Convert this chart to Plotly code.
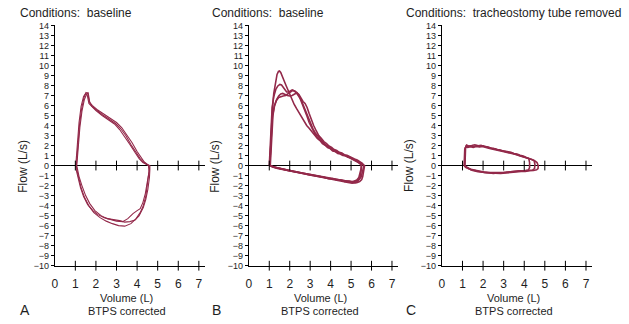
import plotly.graph_objects as go

# ---------------- data (Volume in L, Flow in L/s) ----------------
x_ticks = [0, 1, 2, 3, 4, 5, 6, 7]
y_ticks = list(range(-10, 15))

titles = ["Conditions:  baseline", "Conditions:  baseline", "Conditions:  tracheostomy tube removed"]
letters = ["A", "B", "C"]

A1_vol = [1.05, 1.12, 1.2, 1.3, 1.42, 1.52, 1.6, 1.68, 1.8, 2.0, 2.3, 2.6, 2.95, 3.2, 3.45, 3.7, 3.95, 4.15, 4.3, 4.45,
          4.58, 4.6, 4.55, 4.5, 4.42, 4.3, 4.15, 3.95, 3.7, 3.4, 3.1, 2.8, 2.5, 2.2, 1.9, 1.65, 1.45, 1.28, 1.15, 1.07, 1.05]
A1_flow = [0, 2.0, 4.0, 5.6, 6.8, 7.3, 7.2, 6.4, 5.9, 5.6, 5.1, 4.7, 4.2, 3.7, 3.0, 2.1, 1.3, 0.7, 0.35, 0.12,
           0, -0.3, -1.0, -2.0, -3.1, -4.0, -4.7, -5.3, -5.8, -6.05, -6.0, -5.8, -5.55, -5.2, -4.7, -4.0, -3.2, -2.2, -1.2, -0.4, 0]
A2_vol = [1.02, 1.1, 1.18, 1.28, 1.4, 1.5, 1.58, 1.66, 1.78, 2.0, 2.3, 2.6, 2.9, 3.15, 3.4, 3.65, 3.9, 4.1, 4.28, 4.42,
          4.55, 4.58, 4.5, 4.4, 4.28, 4.15, 4.0, 3.8, 3.55, 3.3, 3.0, 2.7, 2.4, 2.1, 1.85, 1.6, 1.4, 1.25, 1.12, 1.04, 1.02]
A2_flow = [0, 2.2, 4.3, 5.9, 6.9, 7.2, 7.0, 6.2, 5.95, 5.5, 5.0, 4.6, 4.15, 3.6, 2.9, 2.1, 1.3, 0.7, 0.3, 0.1,
           0, -0.6, -1.8, -2.8, -3.7, -4.3, -4.5, -4.8, -5.3, -5.6, -5.55, -5.4, -5.2, -4.9, -4.5, -3.9, -3.1, -2.2, -1.2, -0.4, 0]
A3_vol = [1.07, 1.14, 1.22, 1.32, 1.44, 1.54, 1.62, 1.7, 1.82, 2.05, 2.35, 2.65, 3.0, 3.25, 3.5, 3.75, 4.0, 4.2, 4.35, 4.5,
          4.62, 4.62, 4.6, 4.52, 4.42, 4.3, 4.1, 3.9, 3.65, 3.4, 3.15, 2.85, 2.55, 2.25, 1.95, 1.7, 1.5, 1.32, 1.18, 1.1, 1.07]
A3_flow = [0, 1.8, 3.8, 5.4, 6.6, 7.1, 7.3, 6.3, 6.0, 5.6, 5.2, 4.8, 4.3, 3.8, 3.1, 2.3, 1.4, 0.75, 0.35, 0.1,
           0, -0.4, -1.2, -2.4, -3.4, -4.2, -5.0, -5.45, -5.6, -5.65, -5.5, -5.4, -5.3, -5.0, -4.5, -3.8, -3.0, -2.0, -1.1, -0.3, 0]

B1_vol = [1.03, 1.06, 1.1, 1.15, 1.22, 1.3, 1.38, 1.45, 1.5, 1.56, 1.63, 1.72, 1.82, 1.92, 2.02, 2.12, 2.22, 2.33, 2.45, 2.57,
          2.7, 2.83, 2.96, 3.1, 3.22, 3.35, 3.48, 3.6, 3.72, 3.85, 3.97, 4.1, 4.22, 4.35, 4.47, 4.6, 4.72, 4.85, 4.97, 5.1,
          5.22, 5.35, 5.47, 5.58, 5.66, 5.64, 5.6, 5.57, 5.52, 5.42, 5.28, 5.1, 4.9, 4.7, 4.5, 4.3, 4.1, 3.9, 3.7, 3.5,
          3.3, 3.1, 2.9, 2.7, 2.5, 2.3, 2.1, 1.9, 1.7, 1.5, 1.3, 1.15, 1.03]
B1_flow = [0, 1.8, 3.8, 5.6, 7.2, 8.4, 9.1, 9.4, 9.45, 9.3, 9.0, 8.5, 8.0, 7.5, 7.0, 6.6, 6.1, 5.7, 5.3, 4.8,
           4.4, 4.0, 3.7, 3.3, 3.05, 2.7, 2.5, 2.2, 2.05, 1.8, 1.7, 1.45, 1.4, 1.2, 1.15, 1.0, 0.98, 0.82, 0.78, 0.6,
           0.52, 0.36, 0.26, 0.1, 0, -0.4, -0.8, -1.1, -1.4, -1.6, -1.7, -1.68, -1.55, -1.6, -1.45, -1.45, -1.3, -1.32, -1.18, -1.12,
           -1.05, -0.95, -0.92, -0.8, -0.74, -0.66, -0.56, -0.5, -0.38, -0.3, -0.2, -0.1, 0]
B2_vol = [1.0, 1.04, 1.08, 1.14, 1.22, 1.32, 1.42, 1.52, 1.6, 1.68, 1.76, 1.85, 1.95, 2.04, 2.12, 2.22, 2.35, 2.45, 2.55, 2.65,
          2.75, 2.85, 2.95, 3.05, 3.15, 3.25, 3.35, 3.48, 3.6, 3.72, 3.85, 3.97, 4.1, 4.22, 4.35, 4.47, 4.6, 4.72, 4.85, 4.97,
          5.1, 5.22, 5.33, 5.45, 5.52, 5.5, 5.47, 5.42, 5.35, 5.22, 5.05, 4.85, 4.6, 4.35, 4.1, 3.85, 3.6, 3.35, 3.1, 2.85,
          2.6, 2.35, 2.1, 1.85, 1.6, 1.4, 1.2, 1.08, 1.0]
B2_flow = [0, 2.0, 4.0, 5.8, 6.9, 7.6, 7.95, 8.1, 8.05, 7.8, 7.55, 7.35, 7.35, 7.45, 7.55, 7.45, 7.2, 6.9, 6.6, 6.1,
           5.6, 5.0, 4.5, 4.0, 3.6, 3.25, 3.0, 2.65, 2.45, 2.15, 1.95, 1.8, 1.55, 1.5, 1.28, 1.22, 1.05, 1.0, 0.85, 0.78,
           0.62, 0.5, 0.32, 0.2, 0, -0.45, -0.9, -1.25, -1.5, -1.72, -1.75, -1.7, -1.6, -1.52, -1.42, -1.3, -1.22, -1.1, -1.0, -0.92,
           -0.82, -0.72, -0.62, -0.52, -0.4, -0.3, -0.18, -0.08, 0]
B3_vol = [1.05, 1.08, 1.12, 1.18, 1.26, 1.36, 1.46, 1.56, 1.66, 1.76, 1.88, 2.0, 2.12, 2.24, 2.36, 2.45, 2.55, 2.65, 2.75, 2.85,
          2.95, 3.05, 3.17, 3.3, 3.42, 3.55, 3.67, 3.8, 3.92, 4.05, 4.17, 4.3, 4.42, 4.55, 4.67, 4.8, 4.92, 5.05, 5.17, 5.3,
          5.42, 5.55, 5.63, 5.6, 5.56, 5.5, 5.4, 5.25, 5.05, 4.8, 4.55, 4.3, 4.05, 3.8, 3.55, 3.3, 3.05, 2.8, 2.55, 2.3,
          2.05, 1.8, 1.55, 1.35, 1.18, 1.05]
B3_flow = [0, 1.6, 3.4, 5.0, 6.0, 6.6, 6.95, 7.15, 7.2, 7.1, 7.0, 6.95, 7.0, 7.15, 7.25, 7.1, 6.7, 6.4, 6.2, 5.8,
           5.2, 4.6, 4.0, 3.45, 3.0, 2.7, 2.4, 2.2, 1.95, 1.8, 1.6, 1.5, 1.32, 1.25, 1.08, 1.02, 0.88, 0.8, 0.65, 0.55,
           0.4, 0.22, 0, -0.35, -0.75, -1.1, -1.38, -1.55, -1.62, -1.55, -1.5, -1.4, -1.3, -1.25, -1.12, -1.02, -0.95, -0.85, -0.75, -0.66,
           -0.55, -0.45, -0.34, -0.22, -0.1, 0]
B4_vol = [1.02, 1.05, 1.09, 1.15, 1.24, 1.35, 1.46, 1.56, 1.68, 1.8, 1.92, 2.04, 2.15, 2.25, 2.35, 2.45, 2.55, 2.65, 2.75, 2.85,
          2.95, 3.07, 3.2, 3.32, 3.45, 3.57, 3.7, 3.82, 3.95, 4.07, 4.2, 4.32, 4.45, 4.57, 4.7, 4.82, 4.95, 5.07, 5.2, 5.32,
          5.42, 5.5, 5.48, 5.44, 5.38, 5.28, 5.12, 4.9, 4.65, 4.4, 4.15, 3.9, 3.65, 3.4, 3.15, 2.9, 2.65, 2.4, 2.15, 1.9,
          1.65, 1.42, 1.22, 1.1, 1.02]
B4_flow = [0, 1.5, 3.2, 4.8, 5.9, 6.5, 6.8, 6.9, 6.95, 7.0, 7.15, 7.35, 7.5, 7.45, 7.3, 7.0, 6.5, 6.0, 5.5, 4.9,
           4.3, 3.75, 3.3, 2.9, 2.55, 2.35, 2.1, 1.95, 1.75, 1.62, 1.45, 1.38, 1.22, 1.15, 1.0, 0.95, 0.8, 0.72, 0.55, 0.4,
           0.22, 0, -0.4, -0.85, -1.2, -1.45, -1.6, -1.6, -1.5, -1.42, -1.35, -1.22, -1.15, -1.05, -0.96, -0.86, -0.78, -0.68, -0.58, -0.5,
           -0.38, -0.28, -0.16, -0.06, 0]

C1_vol = [1.1, 1.11, 1.13, 1.18, 1.28, 1.4, 1.55, 1.7, 1.85, 2.0, 2.15, 2.3, 2.45, 2.6, 2.75, 2.9, 3.05, 3.2, 3.35, 3.5,
          3.65, 3.8, 3.95, 4.1, 4.25, 4.4, 4.52, 4.62, 4.68, 4.67, 4.6, 4.45, 4.25, 4.05, 3.85, 3.6, 3.35, 3.1, 2.85,
          2.6, 2.35, 2.1, 1.85, 1.6, 1.4, 1.22, 1.1]
C1_flow = [0, 0.9, 1.7, 1.95, 1.88, 1.95, 1.9, 2.0, 1.92, 1.98, 1.85, 1.8, 1.7, 1.68, 1.55, 1.5, 1.45, 1.35, 1.32, 1.2,
           1.15, 1.02, 0.95, 0.8, 0.72, 0.58, 0.45, 0.3, 0, -0.3, -0.42, -0.5, -0.52, -0.6, -0.58, -0.66, -0.7, -0.75, -0.78,
           -0.8, -0.75, -0.72, -0.62, -0.55, -0.4, -0.2, 0]
C2_vol = [1.12, 1.13, 1.15, 1.2, 1.3, 1.45, 1.6, 1.75, 1.9, 2.05, 2.2, 2.35, 2.5, 2.65, 2.8, 2.95, 3.1, 3.25, 3.4, 3.55,
          3.7, 3.85, 4.0, 4.12, 4.22, 4.26, 4.26, 4.2, 4.05, 3.85, 3.6, 3.35, 3.1, 2.85, 2.6, 2.35, 2.1, 1.85, 1.6, 1.4,
          1.25, 1.12]
C2_flow = [0, 1.0, 1.8, 2.05, 1.95, 2.0, 2.08, 1.98, 2.02, 1.9, 1.88, 1.75, 1.72, 1.6, 1.58, 1.45, 1.4, 1.3, 1.25, 1.12,
           1.05, 0.95, 0.85, 0.78, 0.7, 0.3, -0.2, -0.45, -0.5, -0.55, -0.6, -0.62, -0.68, -0.7, -0.72, -0.7, -0.66, -0.58, -0.5, -0.38,
           -0.22, 0]
C3_vol = [1.08, 1.09, 1.11, 1.16, 1.25, 1.38, 1.52, 1.67, 1.82, 1.97, 2.12, 2.27, 2.42, 2.57, 2.72, 2.87, 3.02, 3.17, 3.32, 3.47,
          3.62, 3.77, 3.92, 4.07, 4.22, 4.36, 4.48, 4.52, 4.5, 4.4, 4.2, 4.0, 3.75, 3.5, 3.25, 3.0, 2.75, 2.5, 2.25, 2.0,
          1.75, 1.5, 1.3, 1.15, 1.08]
C3_flow = [0, 0.8, 1.6, 1.85, 1.8, 1.88, 1.82, 1.9, 1.85, 1.9, 1.78, 1.72, 1.65, 1.6, 1.5, 1.45, 1.38, 1.3, 1.25, 1.15,
           1.1, 0.98, 0.9, 0.78, 0.7, 0.6, 0.5, 0.1, -0.3, -0.45, -0.48, -0.55, -0.52, -0.6, -0.62, -0.7, -0.72, -0.78, -0.72, -0.7,
           -0.62, -0.5, -0.35, -0.18, 0]

panel_loops = [
    [(A1_vol, A1_flow), (A2_vol, A2_flow), (A3_vol, A3_flow)],
    [(B1_vol, B1_flow), (B2_vol, B2_flow), (B3_vol, B3_flow), (B4_vol, B4_flow)],
    [(C1_vol, C1_flow), (C2_vol, C2_flow), (C3_vol, C3_flow)],
]

# ---------------- layout geometry ----------------
W, H = 629, 324
FONT = "Liberation Sans, Arial, Helvetica, sans-serif"
TXT = "#1e1e1e"
LINE_COLOR = "#93294a"
line_widths = [1.1, 1.6, 1.6]

x_px = [(52, 203), (247, 397), (441, 592)]     # pixel extents of each panel's x axis
title_px = [15, 208, 403]
ytitle_px = [20, 213, 408]
letter_px = [15, 208, 403]
Y_TOP, Y_BOT, Y_ZERO = 21, 269, 166

def fx(p):
    return p / W

def fy(p):
    return 1 - p / H

fig = go.Figure()
annotations = []

for i in range(3):
    n = "" if i == 0 else str(i + 1)
    xa, ya = "x" + n, "y" + n
    for vol, flow in panel_loops[i]:
        fig.add_trace(go.Scatter(x=vol, y=flow, mode="lines", xaxis=xa, yaxis=ya,
                                 line=dict(color=LINE_COLOR, width=line_widths[i]),
                                 hoverinfo="skip", showlegend=False))
    # crossing tick marks on the zero line and on the bottom axis
    for yv in (0, y_ticks[0]):
        fig.add_trace(go.Scatter(x=x_ticks[1:], y=[yv] * (len(x_ticks) - 1), mode="markers",
                                 xaxis=xa, yaxis=ya, cliponaxis=False,
                                 marker=dict(symbol="line-ns", size=7, line=dict(width=1, color="black")),
                                 hoverinfo="skip", showlegend=False))
    fig.update_layout(**{
        "xaxis" + n: dict(domain=[fx(x_px[i][0]), fx(x_px[i][1])], range=[0, 7.3], anchor=ya,
                          tickmode="array", tickvals=x_ticks, ticks="", ticklabelstandoff=7,
                          showline=True, linecolor="black",
                          linewidth=1, showgrid=False, zeroline=False,
                          tickfont=dict(family=FONT, size=12, color=TXT)),
        "yaxis" + n: dict(domain=[fy(Y_BOT), fy(Y_TOP)], range=[-10, 14], anchor=xa,
                          tickmode="array", tickvals=y_ticks, ticks="outside", ticklen=3, tickwidth=1,
                          tickcolor="black", showline=True, linecolor="black", linewidth=1,
                          showgrid=False, zeroline=True, zerolinecolor="black", zerolinewidth=1,
                          tickfont=dict(family=FONT, size=9, color=TXT)),
    })
    annotations += [
        dict(text=titles[i], x=fx(title_px[i]), y=fy(8), xref="paper", yref="paper",
             xanchor="left", yanchor="middle", showarrow=False, font=dict(family=FONT, size=12, color=TXT)),
        dict(text="Flow (L/s)", x=fx(ytitle_px[i]), y=fy(Y_ZERO), xref="paper", yref="paper", textangle=-90,
             xanchor="center", yanchor="middle", showarrow=False, font=dict(family=FONT, size=12, color=TXT)),
        dict(text="Volume (L)", x=3.5, y=fy(302), xref=xa, yref="paper",
             xanchor="center", yanchor="middle", showarrow=False, font=dict(family=FONT, size=11, color=TXT)),
        dict(text="BTPS corrected", x=3.5, y=fy(316), xref=xa, yref="paper",
             xanchor="center", yanchor="middle", showarrow=False, font=dict(family=FONT, size=11, color=TXT)),
        dict(text=letters[i], x=fx(letter_px[i]), y=fy(315), xref="paper", yref="paper",
             xanchor="left", yanchor="middle", showarrow=False, font=dict(family=FONT, size=14, color=TXT)),
    ]

fig.update_layout(width=W, height=H, margin=dict(l=0, r=0, t=0, b=0),
                  paper_bgcolor="white", plot_bgcolor="white", annotations=annotations)

fig.write_html("out.html")
